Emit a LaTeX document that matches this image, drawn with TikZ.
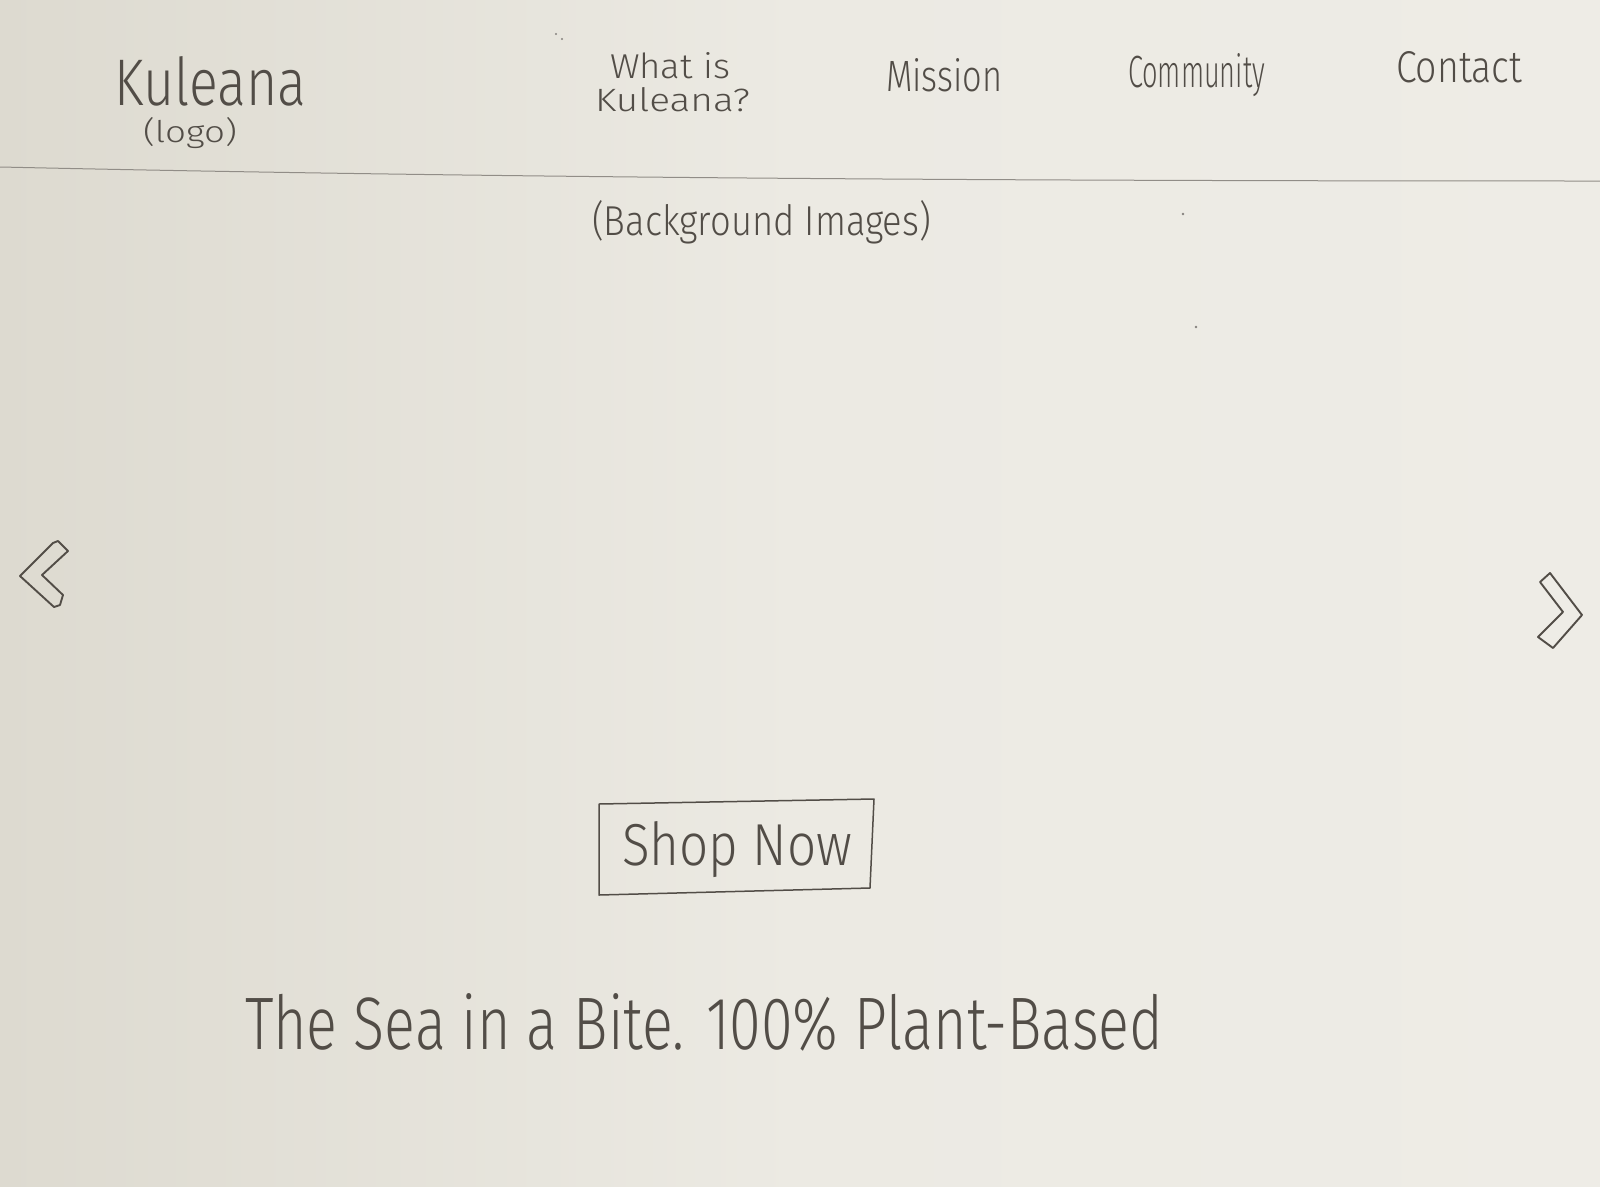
\documentclass[tikz,border=0pt]{standalone}
\usepackage{fontspec}
\IfFontExistsTF{Fira Sans Light}{\setmainfont{Fira Sans Light}}{\setmainfont{Fira Sans}}
\usepackage{graphicx}
\definecolor{paperL}{RGB}{221,218,208}
\definecolor{paperM}{RGB}{236,234,227}
\definecolor{paperR}{RGB}{238,236,230}
\definecolor{pencil}{RGB}{82,77,71}
\definecolor{rule}{RGB}{145,141,135}
% a word written by hand: width, height above baseline, text
\newcommand{\handword}[3]{\resizebox{#1pt}{#2pt}{#3}}
\tikzset{
  x=1pt, y=-1pt,
  hand/.style={inner sep=0pt, outer sep=0pt, anchor=base west, text=pencil,
    font=\fontsize{20}{24}\selectfont},
  pencilline/.style={draw=pencil, line width=1.9pt, line join=round, line cap=round},
}
\begin{document}
\begin{tikzpicture}
% paper
\shade[left color=paperL, right color=paperR, middle color=paperM] (0,0) rectangle (1600,1186);
\useasboundingbox (0,0) rectangle (1600,1186);

% header
\node[hand] (brand) at (114,105) {\handword{192}{49}{Kuleana}};
\node[hand] (logo) at (143,142) {\handword{94}{25}{(logo)}};
\node[hand] (what) at (610,78) {\handword{120}{26}{What is}};
\node[hand] (whatb) at (595,111) {\handword{155}{24}{Kuleana?}};
\node[hand] (mission) at (886,91) {\handword{116}{33}{Mission}};
\node[hand] (community) at (1128,87) {\handword{137}{34}{Community}};
\node[hand] (contact) at (1396,82) {\handword{126}{31}{Contact}};

% header rule
\coordinate (ruleL) at (0,167);
\coordinate (ruleR) at (1600,181);
\draw[rule, line width=1pt] (ruleL) .. controls (500,178) and (1000,181) .. (ruleR);

\node[hand] (bg) at (592,235) {\handword{339}{35}{(Background Images)}};

% pencil specks
\fill[pencil!70] (556,34) circle (1.2) (562,39) circle (1.1) (1183,214) circle (1.4) (1196,327) circle (1.4);

% slider arrows
\draw[pencilline] (20,576) -- (53,543) -- (58,541) -- (68,551) -- (42,575) -- (63,595) -- (60,605) -- (54,607) -- cycle;
\draw[pencilline] (1540,582) -- (1550,573) -- (1582,615) -- (1553,648) -- (1538,637) -- (1563,612) -- cycle;

% button
\node[hand] (shop) at (622,865) {\handword{230}{44}{Shop Now}};
\draw[pencilline, line width=1.5pt] (599,804) -- (874,799) -- (870,888) -- (599,895) -- cycle;

% tagline
\node[hand] (tag) at (245,1049) {\handword{918}{56}{The Sea in a Bite. 100\% Plant-Based}};
\end{tikzpicture}
\end{document}
